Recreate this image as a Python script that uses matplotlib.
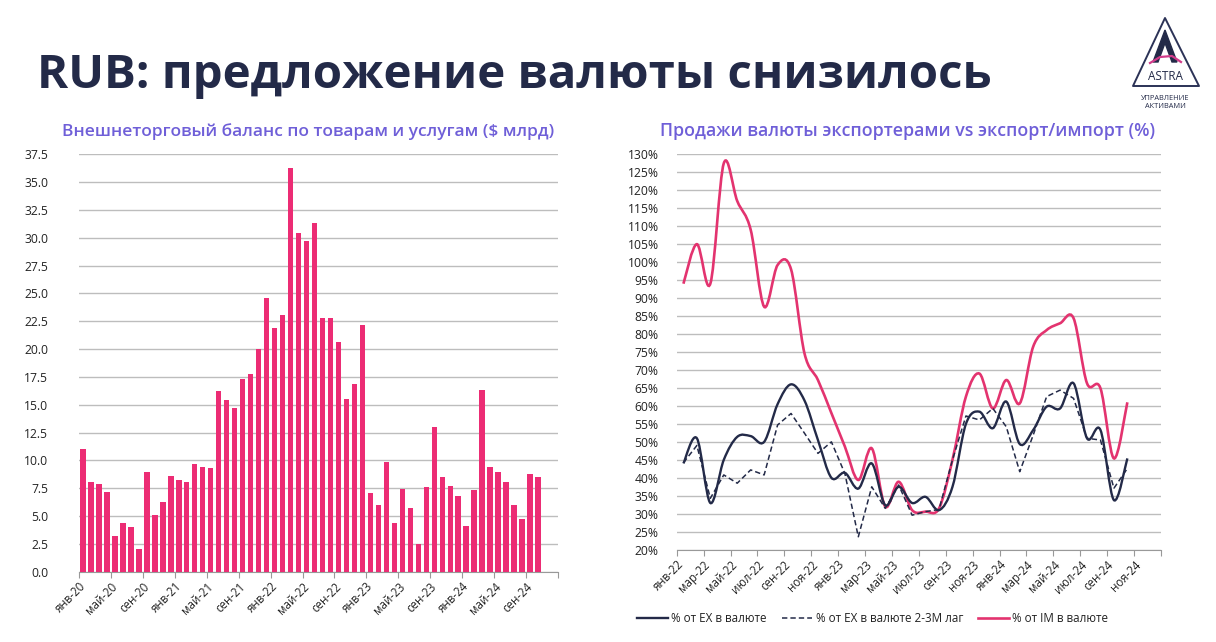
import numpy as np
import matplotlib
matplotlib.use("Agg")
import matplotlib.pyplot as plt
from matplotlib.path import Path
from matplotlib.patches import PathPatch, Polygon
from matplotlib.lines import Line2D

# ---- colours / fonts ----
NAVY = "#232a48"
PINK = "#ec2c74"
PINK_LINE = "#e3336f"
PURPLE = "#6f5fd8"
GRID = "#bdbdbd"
plt.rcParams['font.family'] = ['Open Sans', 'DejaVu Sans']

# ---- left chart: trade balance, $ bn, monthly Jan-20 .. Oct-24 ----
balance = [11.0, 8.05, 7.9, 7.15, 3.2, 4.35, 4.0, 2.05, 9.0, 5.05, 6.3, 8.6,
           8.25, 8.05, 9.65, 9.4, 9.35, 16.2, 15.4, 14.75, 17.35, 17.75, 20.0, 24.6,
           21.85, 23.1, 36.3, 30.45, 29.75, 31.35, 22.75, 22.75, 20.6, 15.55, 16.85, 22.15,
           7.05, 6.0, 9.9, 4.35, 7.4, 5.7, 2.5, 7.6, 13.0, 8.55, 7.7, 6.8,
           4.1, 7.3, 16.3, 9.45, 9.0, 8.05, 6.0, 4.75, 8.8, 8.5]
left_labels = ["янв-20", "май-20", "сен-20", "янв-21", "май-21", "сен-21", "янв-22", "май-22",
               "сен-22", "янв-23", "май-23", "сен-23", "янв-24", "май-24", "сен-24"]
left_yticks = [0, 2.5, 5, 7.5, 10, 12.5, 15, 17.5, 20, 22.5, 25, 27.5, 30, 32.5, 35, 37.5]

# ---- right chart: FX sales by exporters, % , monthly Jan-22 .. Oct-24 ----
pct_ex = [44, 51, 33, 45, 51.4, 51.6, 50, 60.5, 66, 61.5, 50.5, 40,
          41.4, 37, 44, 32.4, 37.5, 33, 34.7, 31, 37.5, 55, 58.4, 53.8,
          61.2, 49.4, 53.3, 59.8, 59.3, 66.3, 51, 53.3, 33.8, 45.4]
pct_ex_lag = [44.2, 49, 34.3, 40.8, 38.5, 42.2, 40.8, 54.7, 57.9, 52.4, 46.8, 50,
              41.2, 23.6, 37.5, 31.5, 38, 29.6, 30.6, 31.2, 45, 57.2, 56.1, 59.3,
              54.2, 41.7, 51.9, 62.6, 64.4, 62.1, 51, 50.5, 37.1, 42.6]
pct_im = [94, 105, 94, 127.5, 117, 109, 87.6, 99.2, 98, 74.6, 67.2, 58,
          48.7, 39.4, 48.2, 32, 38.9, 31, 30.6, 31.5, 45, 62.6, 69, 59.3,
          67.2, 60.7, 76.5, 81.1, 83, 84.4, 66.3, 64.9, 45.4, 61]
right_labels = ["янв-22", "мар-22", "май-22", "июл-22", "сен-22", "ноя-22",
                "янв-23", "мар-23", "май-23", "июл-23", "сен-23", "ноя-23",
                "янв-24", "мар-24", "май-24", "июл-24", "сен-24", "ноя-24"]
right_yticks = list(range(20, 131, 5))
series_names = ["% от EX в валюте", "% от EX в валюте 2-3М лаг", "% от IM в валюте"]


def smooth_path(x, y):
    # Excel-like smoothed line: Catmull-Rom segments as cubic Bezier
    pts = np.column_stack([x, y]).astype(float)
    n = len(pts)
    verts = [pts[0]]
    codes = [Path.MOVETO]
    for i in range(n - 1):
        p0 = pts[i - 1] if i > 0 else pts[i]
        p1 = pts[i]
        p2 = pts[i + 1]
        p3 = pts[i + 2] if i + 2 < n else pts[i + 1]
        c1 = p1 + (p2 - p0) / 6.0
        c2 = p2 - (p3 - p1) / 6.0
        verts += [c1, c2, p2]
        codes += [Path.CURVE4] * 3
    return Path(verts, codes)


fig = plt.figure(figsize=(12.16, 6.42), dpi=100)
W, H = 1216, 642


def fit_text(x, y, s, width_px, size, **kw):
    t = fig.text(x / W, 1 - y / H, s, fontsize=size, **kw)
    r = fig.canvas.get_renderer()
    w = t.get_window_extent(renderer=r).width
    t.set_fontsize(size * width_px / w)
    return t


# ---- titles ----
fit_text(37, 88, "RUB: предложение валюты снизилось", 953, 36,
         color=NAVY, fontweight='bold', va='baseline', ha='left')
fit_text(62, 136, "Внешнеторговый баланс по товарам и услугам ($ млрд)", 495, 12,
         color=PURPLE, fontweight='semibold', va='baseline', ha='left')
fit_text(660, 136, "Продажи валюты экспортерами vs экспорт/импорт (%)", 495, 12,
         color=PURPLE, fontweight='semibold', va='baseline', ha='left')

# ---- left axes ----
axl = fig.add_axes([79 / W, 1 - 571.7 / H, (558 - 79) / W, (571.7 - 154.3) / H])
xb = np.arange(len(balance))
axl.bar(xb, balance, width=0.68, color=PINK, zorder=3)
axl.set_xlim(-0.5, 59.5)
axl.set_ylim(0, 37.5)
axl.set_yticks(left_yticks)
axl.set_yticklabels([f"{v:.1f}" for v in left_yticks])
axl.yaxis.grid(True, color=GRID, linewidth=1.0)
axl.set_axisbelow(True)
lt = [-0.5 + 4 * k for k in range(16)]
axl.set_xticks(lt)
axl.set_xticklabels(left_labels + [""], rotation=45, ha='right', va='top',
                    rotation_mode='anchor')
axl.tick_params(axis='y', length=0, pad=22, labelsize=8.7, labelcolor="#222222")
axl.tick_params(axis='x', length=4, color="#999999", pad=2, labelsize=8.3,
                labelcolor="#222222")
for s in ['top', 'right', 'left']:
    axl.spines[s].set_visible(False)
axl.spines['bottom'].set_color("#999999")

# ---- right axes ----
axr = fig.add_axes([676.7 / W, 1 - 549.7 / H, (1161 - 676.7) / W, (549.7 - 154.3) / H])
xm = np.arange(len(pct_ex)) + 0.5
axr.add_patch(PathPatch(smooth_path(xm, pct_im), fill=False, edgecolor=PINK_LINE,
                        linewidth=1.9, zorder=3))
axr.plot(xm, pct_ex_lag, color=NAVY, linewidth=1.1, linestyle=(0, (3.5, 2)), zorder=4)
axr.add_patch(PathPatch(smooth_path(xm, pct_ex), fill=False, edgecolor=NAVY,
                        linewidth=1.7, zorder=5))
axr.set_xlim(0, 36)
axr.set_ylim(20, 130)
axr.set_yticks(right_yticks)
axr.set_yticklabels([f"{v}%" for v in right_yticks])
axr.yaxis.grid(True, color=GRID, linewidth=1.0)
axr.set_axisbelow(True)
rt = [2 * k for k in range(19)]
axr.set_xticks(rt)
axr.set_xticklabels(right_labels + [""], rotation=45, ha='right', va='top',
                    rotation_mode='anchor')
axr.tick_params(axis='y', length=0, pad=13, labelsize=8.7, labelcolor="#222222")
axr.tick_params(axis='x', length=4, color="#999999", pad=2, labelsize=8.3,
                labelcolor="#222222")
for s in ['top', 'right', 'left']:
    axr.spines[s].set_visible(False)
axr.spines['bottom'].set_color("#999999")

handles = [Line2D([], [], color=NAVY, linewidth=1.7),
           Line2D([], [], color=NAVY, linewidth=1.1, linestyle=(0, (3.5, 2))),
           Line2D([], [], color=PINK_LINE, linewidth=1.9)]
axr.legend(handles, series_names, loc='center', bbox_to_anchor=(0.405, -0.173),
           ncol=3, frameon=False, fontsize=8.4, handlelength=2.6, handletextpad=0.3,
           columnspacing=1.3, labelcolor="#222222")

# ---- logo ----
axo = fig.add_axes([0, 0, 1, 1], zorder=-1)
axo.set_xlim(0, W)
axo.set_ylim(H, 0)
axo.axis('off')
axo.add_patch(Polygon([[1165, 18], [1133, 86], [1199, 86]], closed=True, fill=False,
                      edgecolor="#2b3256", linewidth=1.4, joinstyle='round'))
axo.add_patch(Polygon([[1165, 30], [1153, 62], [1158, 62], [1165, 43], [1172, 62],
                       [1177, 62]], closed=True, color=NAVY))
axo.plot([1150, 1160, 1172, 1181], [63, 57, 56, 62], color="#d13b8a", linewidth=1.6)
axo.text(1165, 77, "ASTRA", ha='center', va='center', fontsize=8.5, color=NAVY)
axo.text(1165, 98, "УПРАВЛЕНИЕ", ha='center', va='center', fontsize=5.3, color=NAVY)
axo.text(1165, 107, "АКТИВАМИ", ha='center', va='center', fontsize=5.3, color=NAVY)

fig.savefig("out.png", dpi=100)
